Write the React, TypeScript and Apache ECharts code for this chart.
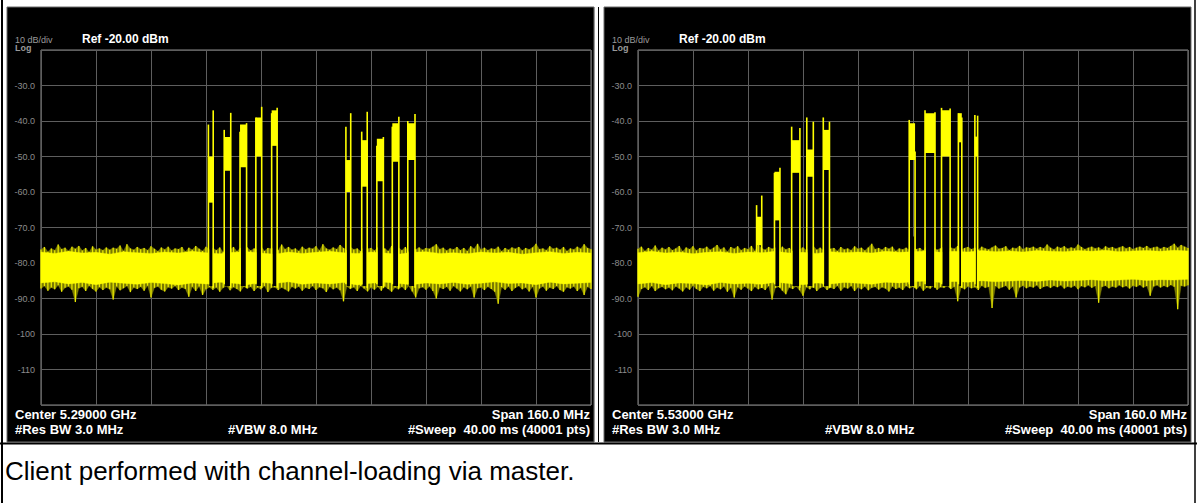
import React, { useEffect, useRef } from "react";
import * as echarts from "echarts";

// ---------- axis / scale facts ----------
const X_MIN = -80; // MHz offset from centre
const X_MAX = 80;
const X_DIV = 16; // MHz per division (160 MHz span)
const Y_MIN = -120; // dBm
const Y_MAX = -20; // Ref level
const Y_DIV = 10; // dB/div
const NOISE_STEP = 1; // MHz between envelope samples
const CORE_STEP = 4; // MHz between core-band samples

// ---------- texts ----------
const headerTexts = ["10 dB/div", "Log", "Ref -20.00 dBm"];
const centerTexts = ["Center 5.29000 GHz", "Center 5.53000 GHz"];
const resBwText = "#Res BW 3.0 MHz";
const vbwText = "#VBW 8.0 MHz";
const spanText = "Span 160.0 MHz";
const sweepText = "#Sweep  40.00 ms (40001 pts)";
const captionText = "Client performed with channel-loading via master.";

// ---------- left trace (5.29 GHz) : noise envelope, 1 MHz steps ----------
const leftNoiseHi = [
  -76.2, -75.5, -76.8, -75.9, -76.4, -74.8, -76.1, -75.7, -76.6, -75.4,
  -76.0, -75.2, -76.5, -75.8, -76.9, -75.3, -76.2, -75.9, -76.4, -75.6,
  -76.3, -75.7, -76.0, -75.1, -76.6, -74.7, -75.9, -76.3, -75.5, -76.1,
  -75.8, -76.4, -75.3, -76.0, -76.7, -75.6, -76.2, -75.4, -76.5, -75.9,
  -76.1, -75.5, -76.8, -75.7, -76.3, -75.2, -76.0, -76.6, -75.4, -76.2,
  -75.8, -76.4, -75.6, -76.9, -75.9, -76.3, -75.5, -76.7, -75.8, -76.1,
  -75.6, -76.5, -75.9, -76.2, -75.3, -76.6, -75.8, -76.0, -75.7, -76.4,
  -74.8, -76.1, -75.5, -76.3, -75.9, -76.6, -75.4, -76.2, -75.7, -76.0,
  -75.3, -76.5, -74.7, -75.9, -76.3, -75.6, -76.1, -74.9, -75.8, -76.4,
  -75.5, -76.2, -75.9, -76.7, -75.4, -76.0, -75.8, -76.5, -75.6, -76.3,
  -75.9, -76.6, -75.2, -76.1, -75.7, -76.4, -75.5, -76.8, -75.9, -76.2,
  -75.6, -76.3, -75.8, -76.0, -75.4, -74.7, -76.1, -75.7, -76.5, -75.9,
  -76.2, -75.5, -76.4, -75.8, -76.6, -75.3, -76.0, -74.6, -76.2, -75.7,
  -76.4, -75.9, -76.1, -75.4, -76.7, -75.8, -76.3, -75.6, -76.0, -75.5,
  -76.5, -75.8, -76.2, -75.6, -74.6, -76.1, -75.9, -76.4, -75.3, -76.0,
  -75.7, -76.3, -75.5, -76.6, -75.9, -76.2, -75.4, -76.0, -74.7, -75.8,
  -76.1,
];
const leftNoiseLo = [
  -87.2, -86.5, -87.8, -86.9, -87.4, -86.3, -88.1, -87.0, -86.6, -87.5,
  -91.0, -87.1, -86.7, -87.9, -86.4, -87.3, -88.0, -86.8, -87.6, -86.9,
  -87.4, -90.3, -86.6, -87.7, -87.1, -86.5, -88.2, -86.9, -87.3, -86.7,
  -87.8, -86.4, -89.7, -87.0, -86.6, -87.5, -88.0, -86.8, -87.2, -86.5,
  -87.6, -86.9, -87.3, -89.5, -86.7, -87.9, -86.6, -89.0, -87.4, -86.8,
  -87.5, -86.9, -88.1, -87.0, -86.5, -87.7, -86.8, -87.3, -88.0, -86.6,
  -87.2, -86.7, -87.9, -86.9, -87.4, -86.5, -88.2, -87.0, -86.8, -87.6,
  -86.9, -87.4, -88.0, -86.7, -87.2, -86.6, -87.8, -86.9, -87.3, -86.5,
  -87.6, -86.8, -87.1, -88.2, -86.7, -87.4, -86.9, -87.7, -90.8, -86.6,
  -87.3, -86.8, -87.9, -86.5, -87.2, -88.0, -86.9, -87.5, -86.7, -87.8,
  -86.6, -87.3, -88.1, -86.9, -87.4, -86.7, -87.6, -86.5, -88.0, -89.7,
  -87.1, -86.8, -87.5, -86.6, -87.9, -90.0, -86.9, -87.3, -86.7, -87.8,
  -86.5, -87.2, -88.0, -86.8, -87.4, -86.6, -89.7, -87.1, -86.9, -87.6,
  -86.7, -87.3, -88.1, -91.5, -86.8, -87.5, -86.6, -87.9, -87.0, -86.5,
  -87.4, -86.9, -88.0, -86.7, -89.7, -87.2, -86.6, -87.8, -86.9, -87.3,
  -86.5, -87.6, -88.1, -86.8, -87.2, -86.6, -87.9, -87.0, -89.0, -86.7,
  -87.3,
];
// dense core of the noise band, 4 MHz steps
const leftCoreHi = [
  -76.9, -77.3, -76.7, -77.2, -77.0, -77.5, -76.8, -77.1, -77.3, -76.9,
  -77.2, -76.7, -77.1, -77.4, -77.0, -76.8, -77.2, -77.5, -76.9, -77.3,
  -77.0, -76.7, -77.1, -77.3, -76.9, -77.2, -77.5, -77.0, -76.8, -77.3,
  -77.1, -77.4, -76.9, -77.2, -77.0, -77.5, -77.1, -76.8, -77.3, -77.0,
  -77.2,
];
const leftCoreLo = [
  -85.6, -85.3, -85.9, -85.5, -86.1, -85.4, -85.7, -86.0, -85.5, -85.8,
  -86.2, -85.6, -85.9, -85.4, -85.7, -86.1, -85.5, -85.8, -85.3, -86.0,
  -85.6, -85.9, -85.5, -86.2, -85.7, -85.4, -85.8, -86.1, -85.6, -85.9,
  -85.5, -86.0, -85.7, -85.3, -85.8, -85.6, -86.1, -85.4, -85.9, -85.7,
  -85.5,
];
// channels: [startMHz, endMHz, leftEdgePeak, rightEdgePeak, blockTop, blockBottom, cutsNoise]
const leftChannels = [
  [-31.3, -29.9, -41.0, -37.0, -50.0, -63.0, 1],
  [-26.7, -24.8, -42.5, -37.7, -44.5, -54.0, 1],
  [-22.1, -20.2, -43.0, -40.6, -41.0, -53.0, 1],
  [-17.5, -15.8, -39.0, -36.0, -39.0, -50.0, 1],
  [-12.9, -11.3, -37.8, -36.3, -37.0, -47.0, 1],
  [8.7, 10.1, -41.6, -37.8, -51.0, -60.0, 1],
  [13.3, 14.9, -43.0, -37.4, -45.4, -58.5, 1],
  [17.7, 19.6, -47.0, -44.5, -45.0, -57.0, 1],
  [22.2, 24.1, -41.6, -38.8, -40.6, -51.5, 1],
  [26.7, 28.8, -40.0, -38.0, -40.6, -51.0, 1],
];

// ---------- right trace (5.53 GHz) ----------
const rightNoiseHi = [
  -76.0, -75.4, -76.6, -75.8, -76.3, -75.1, -76.5, -75.7, -76.2, -75.5,
  -76.4, -75.9, -75.2, -76.7, -75.6, -76.1, -75.3, -76.5, -75.8, -76.0,
  -75.4, -76.3, -75.7, -74.9, -76.2, -75.6, -76.8, -75.5, -76.0, -75.3,
  -76.4, -75.8, -76.1, -75.2, -76.6, -74.8, -75.9, -76.3, -75.5, -76.0,
  -75.7, -76.5, -75.4, -76.2, -75.8, -76.6, -75.3, -76.1, -75.6, -76.4,
  -75.9, -75.2, -76.3, -75.7, -76.5, -75.4, -76.0, -75.8, -76.6, -75.5,
  -76.2, -75.9, -76.4, -75.3, -76.0, -75.7, -76.5, -75.6, -74.6, -76.1,
  -75.8, -76.3, -75.5, -76.0, -75.4, -76.6, -75.9, -76.2, -75.7, -76.4,
  -75.5, -76.1, -75.8, -76.5, -75.3, -76.0, -75.6, -76.3, -75.9, -75.4,
  -76.2, -75.7, -76.0, -75.2, -76.4, -75.8, -75.5, -76.1, -75.7, -76.3,
  -75.4, -75.9, -76.2, -75.6, -75.1, -76.0, -75.8, -75.3, -76.4, -75.7,
  -75.9, -75.2, -76.1, -75.6, -75.8, -75.4, -76.0, -75.5, -75.9, -74.8,
  -75.7, -76.2, -75.4, -75.8, -75.3, -76.0, -75.6, -75.9, -74.8, -75.5,
  -76.1, -75.7, -75.4, -75.9, -75.6, -76.2, -75.3, -75.8, -75.5, -76.0,
  -75.6, -75.3, -75.9, -75.5, -76.1, -75.7, -75.4, -75.8, -75.2, -75.9,
  -75.6, -75.4, -76.0, -75.5, -75.8, -75.2, -74.6, -75.7, -74.9, -75.4,
  -75.8,
];
const rightNoiseLo = [
  -89.5, -87.3, -86.8, -87.6, -86.5, -87.9, -87.1, -86.7, -87.4, -86.9,
  -87.7, -86.6, -87.2, -88.0, -86.8, -87.5, -86.4, -87.3, -87.9, -86.7,
  -87.1, -86.5, -87.8, -86.9, -87.4, -86.6, -88.1, -87.0, -89.7, -86.8,
  -87.5, -86.6, -87.2, -87.9, -86.7, -87.4, -86.9, -87.6, -86.5, -90.3,
  -87.0, -86.7, -87.8, -88.8, -86.9, -87.3, -86.6, -87.7, -89.2, -86.8,
  -87.4, -86.5, -87.9, -87.0, -86.7, -87.6, -86.9, -87.3, -86.4, -87.8,
  -86.8, -87.2, -86.5, -87.9, -86.9, -87.4, -86.6, -87.7, -87.0, -86.7,
  -87.5, -86.8, -87.2, -88.0, -86.6, -87.3, -86.9, -87.6, -86.5, -87.1,
  -86.7, -87.4, -86.5, -87.8, -86.9, -87.2, -86.4, -87.5, -86.8, -87.0,
  -86.5, -87.3, -86.7, -90.8, -86.9, -87.4, -86.6, -87.1, -86.8, -87.6,
  -86.4, -87.0, -86.7, -92.7, -86.5, -87.2, -86.8, -86.4, -87.5, -86.6,
  -89.7, -86.9, -86.4, -87.1, -86.6, -86.9, -86.3, -87.3, -86.7, -86.5,
  -87.0, -86.4, -86.8, -86.3, -87.2, -86.6, -86.9, -86.4, -87.4, -86.5,
  -86.8, -86.3, -87.0, -86.5, -91.2, -86.7, -86.4, -87.1, -86.6, -86.9,
  -86.3, -86.8, -86.5, -87.2, -86.4, -86.7, -86.2, -86.9, -86.5, -89.2,
  -86.6, -86.3, -86.9, -86.4, -86.8, -86.2, -86.7, -93.0, -86.4, -86.6,
  -86.3,
];
const rightCoreHi = [
  -77.1, -76.7, -77.2, -76.9, -77.4, -77.0, -76.8, -77.3, -76.9, -77.1,
  -76.7, -77.2, -77.0, -77.3, -76.8, -77.1, -76.9, -77.2, -76.7, -77.0,
  -76.8, -76.6, -77.0, -76.7, -76.9, -76.5, -76.8, -76.6, -76.9, -76.5,
  -76.7, -76.8, -76.5, -76.7, -76.4, -76.8, -76.6, -76.5, -76.7, -76.4,
  -76.6,
];
const rightCoreLo = [
  -85.9, -85.5, -86.1, -85.6, -85.8, -86.2, -85.5, -85.9, -85.7, -86.0,
  -85.4, -85.8, -86.1, -85.6, -85.9, -85.5, -85.7, -86.0, -85.4, -85.6,
  -85.3, -85.1, -85.5, -85.2, -85.4, -85.0, -85.3, -85.1, -84.9, -85.2,
  -84.8, -85.1, -84.9, -84.7, -85.0, -84.8, -84.6, -84.9, -84.7, -84.8,
  -84.6,
];
const rightChannels = [
  [-45.5, -44.0, -63.7, -61.0, -67.0, -75.0, 0],
  [-40.3, -38.7, -54.6, -53.2, -54.3, -68.0, 1],
  [-35.3, -32.9, -41.6, -42.0, -45.4, -54.6, 1],
  [-30.9, -29.0, -39.0, -40.2, -48.0, -55.7, 1],
  [-26.1, -24.3, -39.0, -40.2, -42.5, -53.8, 1],
  [-1.1, 0.6, -39.7, -48.6, -40.6, -51.0, 1],
  [3.5, 6.4, -37.0, -37.5, -37.8, -49.0, 1],
  [8.3, 10.8, -36.3, -36.5, -37.0, -50.0, 1],
  [13.2, 14.2, -37.8, -39.0, -37.8, -46.0, 1],
  [18.0, 18.8, -38.3, -38.5, -44.4, -50.0, 1],
];

const FONT = '"Liberation Sans", Arial, Helvetica, sans-serif';
const YELLOW = "#ffff00";
const FRINGE_FILL = "#7a7a00";
const FRINGE_SPIKE = "#e8e800";

type Trace = {
  noiseHi: number[];
  noiseLo: number[];
  coreHi: number[];
  coreLo: number[];
  channels: number[][];
};

const traces: Trace[] = [
  { noiseHi: leftNoiseHi, noiseLo: leftNoiseLo, coreHi: leftCoreHi, coreLo: leftCoreLo, channels: leftChannels },
  { noiseHi: rightNoiseHi, noiseLo: rightNoiseLo, coreHi: rightCoreHi, coreLo: rightCoreLo, channels: rightChannels },
];

// envelope band: each data item is [freq, lo, hi]; the band is one polygon
// through api.coord of every item, optionally with a spike line per item.
function bandSeries(
  g: number,
  lo: number[],
  hi: number[],
  step: number,
  fill: string,
  spike: string | null,
  z: number
) {
  const data = lo.map((v, i) => [X_MIN + i * step, v, hi[i]]);
  return {
    type: "custom",
    xAxisIndex: g,
    yAxisIndex: g,
    z,
    silent: true,
    animation: false,
    dimensions: ["f", "lo", "hi"],
    encode: { x: 0, y: [1, 2] },
    data,
    renderItem: (params: any, api: any) => {
      const children: any[] = [];
      if (params.dataIndex === 0) {
        const top: number[][] = [];
        const bottom: number[][] = [];
        for (let i = 0; i < data.length; i++) {
          top.push(api.coord([data[i][0], data[i][2]]));
          bottom.push(api.coord([data[i][0], data[i][1]]));
        }
        children.push({
          type: "polygon",
          shape: { points: top.concat(bottom.reverse()) },
          style: { fill, stroke: fill, lineWidth: 0.4 },
        });
      }
      if (spike) {
        const a = api.coord([api.value(0), api.value(1)]);
        const b = api.coord([api.value(0), api.value(2)]);
        children.push({
          type: "line",
          shape: { x1: a[0], y1: a[1], x2: b[0], y2: b[1] },
          style: { stroke: spike, lineWidth: 1.3 },
        });
      }
      return { type: "group", children };
    },
  };
}

function channelSeries(g: number, channels: number[][]) {
  return {
    type: "custom",
    xAxisIndex: g,
    yAxisIndex: g,
    z: 6,
    silent: true,
    animation: false,
    dimensions: ["f0", "f1", "pL", "pR", "bT", "bB", "cut"],
    encode: { x: [0, 1], y: [2, 3, 4, 5] },
    data: channels,
    renderItem: (_params: any, api: any) => {
      const f0 = api.value(0);
      const f1 = api.value(1);
      const pL = api.value(2);
      const pR = api.value(3);
      const bT = api.value(4);
      const bB = api.value(5);
      const cut = api.value(6);
      const children: any[] = [];
      if (cut) {
        const a = api.coord([f0, -72.5]);
        const b = api.coord([f1, -86.5]);
        children.push({
          type: "rect",
          shape: { x: a[0] + 0.8, y: a[1], width: b[0] - a[0] - 1.2, height: b[1] - a[1] },
          style: { fill: "#000" },
        });
      }
      const t = api.coord([f0, bT]);
      const u = api.coord([f1, bB]);
      children.push({
        type: "rect",
        shape: { x: t[0], y: t[1], width: u[0] - t[0], height: u[1] - t[1] },
        style: { fill: YELLOW },
      });
      const l1 = api.coord([f0, pL]);
      const l2 = api.coord([f0, -86]);
      children.push({
        type: "line",
        shape: { x1: l1[0], y1: l1[1], x2: l2[0], y2: l2[1] },
        style: { stroke: YELLOW, lineWidth: 1.6 },
      });
      const r1 = api.coord([f1, pR]);
      const r2 = api.coord([f1, -87]);
      children.push({
        type: "line",
        shape: { x1: r1[0], y1: r1[1], x2: r2[0], y2: r2[1] },
        style: { stroke: YELLOW, lineWidth: 1.6 },
      });
      return { type: "group", children };
    },
  };
}

function buildOption() {
  const plotLefts = [41, 638];
  const panelLefts = [7, 604];
  const grid = plotLefts.map((l) => ({
    left: l,
    top: 50,
    width: 550,
    height: 355,
    show: true,
    borderColor: "#8a8a8a",
    borderWidth: 1,
    backgroundColor: "#000",
  }));
  const splitLine = { show: true, lineStyle: { color: "#5e5e5e", width: 1 } };
  const xAxis = plotLefts.map((_, i) => ({
    type: "value",
    gridIndex: i,
    min: X_MIN,
    max: X_MAX,
    interval: X_DIV,
    axisLabel: { show: false },
    axisTick: { show: false },
    axisLine: { show: false },
    splitLine,
  }));
  const yAxis = plotLefts.map((_, i) => ({
    type: "value",
    gridIndex: i,
    min: Y_MIN,
    max: Y_MAX,
    interval: Y_DIV,
    axisTick: { show: false },
    axisLine: { show: false },
    splitLine,
    axisLabel: {
      color: "#8c8c8c",
      fontSize: 9,
      fontFamily: FONT,
      margin: 6,
      formatter: (v: number) =>
        v === Y_MIN || v === Y_MAX ? "" : v > -100 ? v.toFixed(1) : String(v),
    },
  }));

  const series: any[] = [];
  traces.forEach((t, g) => {
    series.push(bandSeries(g, t.noiseLo, t.noiseHi, NOISE_STEP, FRINGE_FILL, FRINGE_SPIKE, 2));
    series.push(bandSeries(g, t.coreLo, t.coreHi, CORE_STEP, YELLOW, null, 4));
    series.push(channelSeries(g, t.channels));
  });

  const txt = (x: number, y: number, text: string, opts: any = {}) => ({
    type: "text",
    x,
    y,
    z: 100,
    silent: true,
    style: {
      text,
      fill: opts.fill || "#fff",
      fontSize: opts.size || 13,
      fontWeight: opts.weight || "bold",
      fontFamily: FONT,
      textAlign: opts.align || "left",
      textVerticalAlign: "middle",
    },
  });

  const elements: any[] = [];
  panelLefts.forEach((px, i) => {
    elements.push({
      type: "rect",
      z: -10,
      silent: true,
      shape: { x: px, y: 7, width: 587, height: 435 },
      style: { fill: "#000", stroke: "#6a6a6a", lineWidth: 1 },
    });
    const pl = plotLefts[i];
    elements.push(txt(pl - 26, 40, headerTexts[0], { fill: "#9a9a9a", size: 9, weight: "normal" }));
    elements.push(txt(pl - 26, 48, headerTexts[1], { fill: "#9a9a9a", size: 9, weight: "bold" }));
    elements.push(txt(pl + 41, 39, headerTexts[2], { size: 12 }));
    elements.push(txt(pl - 26, 414, centerTexts[i]));
    elements.push(txt(pl - 26, 429, resBwText));
    elements.push(txt(pl + 187, 429, vbwText));
    elements.push(txt(pl + 549, 414, spanText, { align: "right" }));
    elements.push(txt(pl + 549, 429, sweepText, { align: "right" }));
  });
  // table borders
  const line = (x1: number, y1: number, x2: number, y2: number, w: number, c: string) => ({
    type: "line",
    z: 50,
    silent: true,
    shape: { x1, y1, x2, y2 },
    style: { stroke: c, lineWidth: w },
  });
  elements.push(line(2, 0, 2, 503, 2, "#000"));
  elements.push(line(0, 443.5, 1197, 443.5, 2, "#000"));
  elements.push(line(1195, 0, 1195, 503, 1.5, "#000"));
  elements.push(line(594.5, 7, 594.5, 442, 1, "#9a9a9a"));
  elements.push(line(598.5, 7, 598.5, 442, 1, "#000"));
  elements.push(txt(5, 471, captionText, { fill: "#000", size: 26, weight: "normal" }));

  return {
    animation: false,
    backgroundColor: "#fff",
    grid,
    xAxis,
    yAxis,
    series,
    graphic: { elements },
  };
}

export default function App() {
  const ref = useRef<HTMLDivElement>(null);
  useEffect(() => {
    document.body.style.margin = "0";
    const chart = echarts.init(ref.current as HTMLDivElement, null, { renderer: "svg" });
    chart.setOption(buildOption() as any);
    return () => {
      chart.dispose();
    };
  }, []);
  return <div ref={ref} style={{ width: 1197, height: 503 }} />;
}
